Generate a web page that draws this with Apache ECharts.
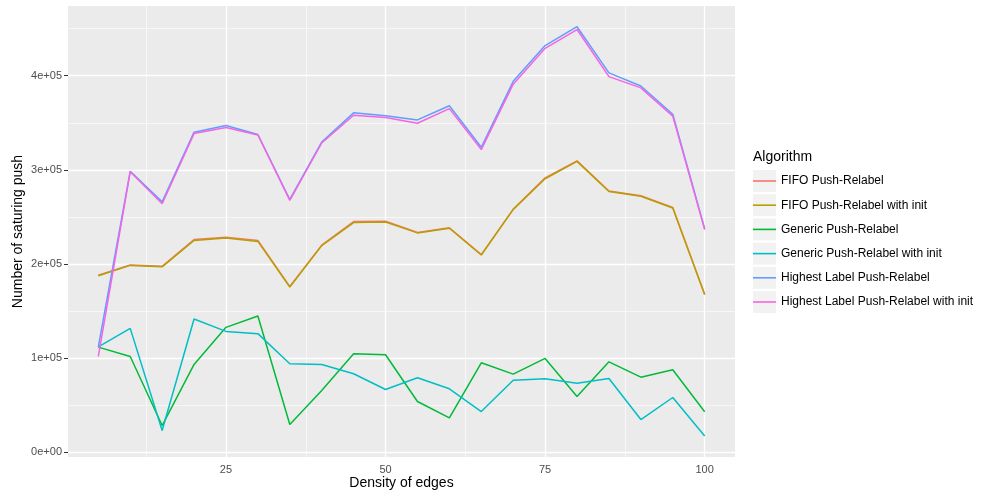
<!DOCTYPE html>
<html>
<head>
<meta charset="utf-8">
<script src="https://cdn.jsdelivr.net/npm/echarts@6/dist/echarts.min.js"></script>
<style>
html,body{margin:0;padding:0;background:#fff;}
#chart{width:981px;height:498px;}
</style>
</head>
<body>
<div id="chart"></div>
<script>
const density = [5,10,15,20,25,30,35,40,45,50,55,60,65,70,75,80,85,90,95,100];
const seriesNames = [
  'FIFO Push-Relabel',
  'FIFO Push-Relabel with init',
  'Generic Push-Relabel',
  'Generic Push-Relabel with init',
  'Highest Label Push-Relabel',
  'Highest Label Push-Relabel with init'
];
const fifo = [188000,199000,197500,226000,228500,225000,176000,220000,245000,245500,233500,238500,210000,258000,291500,309500,277500,272500,260000,167500];
const fifoInit = [187500,198500,197000,225000,227500,224000,175500,219500,244000,244500,233000,238000,209500,258000,290500,309000,277000,272000,259500,167500];
const generic = [111700,101800,28400,93300,132700,144700,29500,65600,104700,103600,53900,36600,95100,83000,99700,59300,96100,79800,87600,43000];
const genericInit = [112000,131600,23100,141500,128400,126000,94000,93300,83400,66700,79100,67400,43300,76600,78000,73400,78400,34800,58200,17400];
const highest = [112000,298500,266000,340000,347000,337500,268500,329500,360500,357500,353000,368000,324000,394000,432000,452000,403000,389000,359000,237500];
const highestInit = [102000,298000,264000,338500,345000,337000,267500,328500,358000,355500,349500,365000,321500,391000,429000,449000,399000,387000,357000,236500];
const seriesValues = [fifo, fifoInit, generic, genericInit, highest, highestInit];
const colors = ['#F8766D','#B79F00','#00BA38','#00BFC4','#619CFF','#F564E3'];

const xTicks = [25,50,75,100];
const xMinor = [12.5,37.5,62.5,87.5];
const yTicks = [0,100000,200000,300000,400000];
const yTickLabels = ['0e+00','1e+05','2e+05','3e+05','4e+05'];
const yMinor = [50000,150000,250000,350000,450000];

const FONT = '"Liberation Sans", Arial, Helvetica, sans-serif';

const chart = echarts.init(document.getElementById('chart'), null, {renderer:'canvas'});

const gridLines = [];
xMinor.forEach(v => gridLines.push({xAxis:v, lineStyle:{color:'#fff', width:0.6, type:'solid'}}));
yMinor.forEach(v => gridLines.push({yAxis:v, lineStyle:{color:'#fff', width:0.6, type:'solid'}}));
xTicks.forEach(v => gridLines.push({xAxis:v, lineStyle:{color:'#fff', width:1.3, type:'solid'}}));
yTicks.forEach(v => gridLines.push({yAxis:v, lineStyle:{color:'#fff', width:1.3, type:'solid'}}));

const series = [{
  name:'__grid', type:'line', data:[], silent:true, z:1,
  markLine:{silent:true, z:1, symbol:['none','none'], label:{show:false}, animation:false, data:gridLines}
}];
seriesNames.forEach((n,i) => {
  series.push({
    name:n, type:'line', z:3,
    data: density.map((x,j) => [x, seriesValues[i][j]]),
    showSymbol:false, symbol:'none',
    lineStyle:{color:colors[i], width:1.5},
    itemStyle:{color:colors[i]},
    animation:false
  });
});

const keyPath = 'path://M0,0 M0,10.2 L23,10.2 L23,11.8 L0,11.8 Z M23,22';

chart.setOption({
  animation:false,
  backgroundColor:'#fff',
  textStyle:{fontFamily:FONT},
  title:{text:'Algorithm', left:753, top:150, padding:0, textStyle:{fontSize:14, fontWeight:'normal', color:'#000', fontFamily:FONT}},
  grid:{left:68, top:6, width:667, height:451, show:true, backgroundColor:'#EBEBEB', borderWidth:0, containLabel:false, outerBoundsMode:'none'},
  xAxis:{
    type:'value', min:0.25, max:104.75,
    name:'Density of edges', nameLocation:'middle', nameGap:19, nameMoveOverlap:false,
    nameTextStyle:{fontSize:14, color:'#000', fontFamily:FONT},
    axisLine:{show:false},
    axisTick:{show:true, length:4, inside:false, customValues:xTicks, lineStyle:{color:'#333', width:1}},
    axisLabel:{customValues:xTicks, fontSize:11, color:'#4D4D4D', margin:7, fontFamily:FONT},
    splitLine:{show:false}, minorSplitLine:{show:false}
  },
  yAxis:{
    type:'value', min:-5000, max:474000,
    name:'Number of saturing push', nameLocation:'middle', nameGap:43, nameMoveOverlap:false,
    nameTextStyle:{fontSize:14, color:'#000', fontFamily:FONT},
    axisLine:{show:false},
    axisTick:{show:true, length:4, inside:false, customValues:yTicks, lineStyle:{color:'#333', width:1}},
    axisLabel:{customValues:yTicks, fontSize:11, color:'#4D4D4D', margin:6, fontFamily:FONT,
      formatter:function(v){ const k = yTicks.indexOf(v); return k >= 0 ? yTickLabels[k] : ''; }},
    splitLine:{show:false}, minorSplitLine:{show:false}
  },
  legend:[{
    data:seriesNames, orient:'vertical', left:753, top:170, padding:0,
    icon:'rect', itemWidth:23, itemHeight:22, itemGap:2.2,
    itemStyle:{color:'#F2F2F2', borderWidth:0},
    formatter:function(){return '';},
    textStyle:{fontSize:12}, selectedMode:false
  },{
    data:seriesNames.map((n,i)=>({name:n, icon:keyPath, itemStyle:{color:colors[i]}})),
    orient:'vertical', left:753, top:170, padding:0,
    itemWidth:23, itemHeight:22, itemGap:2.2, itemTextGap:4,
    textStyle:{fontSize:12, color:'#000', fontFamily:FONT}, selectedMode:false
  }],
  series:series
});
</script>
</body>
</html>
